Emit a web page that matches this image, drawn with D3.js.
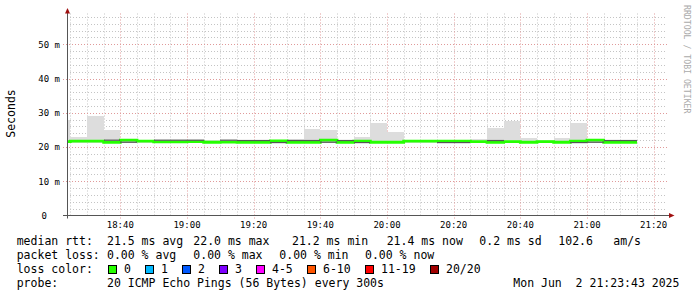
<!DOCTYPE html>
<html>
	<head>
		<title>SmokePing</title>
		<style>
			body, html { margin: 0; padding: 0; background: #fff; }
			text { font-family: "DejaVu Sans Mono", monospace; fill: #000; }
			.legend text { font-size: 11.5px; white-space: pre; }
			.tick-label { font-size: 9px; }
		</style>
	</head>
	<body>
		<svg id="svg" width="697" height="297"></svg>

		<script src="https://d3js.org/d3.v7.min.js"></script>
		<script>
			// 5-minute steps (time the step ends), values in ms
			const binEnds = ['18:25','18:30','18:35','18:40','18:45','18:50','18:55','19:00','19:05','19:10',
				'19:15','19:20','19:25','19:30','19:35','19:40','19:45','19:50','19:55','20:00',
				'20:05','20:10','20:15','20:20','20:25','20:30','20:35','20:40','20:45','20:50',
				'20:55','21:00','21:05','21:10','21:15']
			const medianMs = [21.6, 21.7, 21.7, 21.4, 22.0, 21.7, 21.5, 21.5, 21.6, 21.4,
				21.45, 21.4, 21.4, 21.8, 21.4, 21.4, 22.0, 21.4, 21.7, 21.4,
				21.4, 21.7, 21.7, 21.7, 21.7, 21.6, 21.4, 21.6, 21.4, 21.6,
				21.4, 21.7, 22.0, 21.4, 21.4]
			const smokeMaxMs = [28.0, 23.0, 29.0, 24.9, 22.3, 22.0, 22.0, 22.0, 22.0, 22.0,
				22.0, 21.9, 21.9, 22.0, 22.4, 25.2, 24.9, 21.9, 22.9, 27.0,
				24.4, 21.9, 21.9, 21.8, 21.8, 22.3, 25.5, 27.7, 22.6, 22.0,
				22.6, 27.0, 22.2, 21.9, 21.9]
			const smokeMinMs = [21.2, 21.3, 21.3, 21.2, 21.3, 21.3, 21.2, 21.2, 21.3, 21.2,
				21.2, 21.2, 21.2, 21.2, 21.2, 21.2, 21.3, 21.2, 21.2, 21.2,
				21.2, 21.3, 21.3, 21.2, 21.2, 21.3, 21.2, 21.3, 21.2, 21.3,
				21.2, 21.2, 21.3, 21.2, 21.2]
			// darker part of the smoke
			const denseMs = [21.6, 21.7, 21.7, 22.0, 21.4, 21.7, 22.0, 22.0, 22.0, 21.4,
				22.0, 21.9, 21.9, 21.3, 21.9, 21.9, 21.4, 21.9, 21.3, 21.4,
				21.4, 21.7, 21.7, 21.3, 21.3, 21.6, 21.9, 21.6, 21.4, 21.6,
				21.4, 21.3, 21.4, 21.9, 21.9]

			const yTicks = [0, 10, 20, 30, 40, 50]
			const yTickLabels = ['0', '10 m', '20 m', '30 m', '40 m', '50 m']
			const xTickLabels = ['18:40','19:00','19:20','19:40','20:00','20:20','20:40','21:00','21:20']

			const lossLabels = ['0', '1', '2', '3', '4-5', '6-10', '11-19', '20/20']
			const lossColors = ['#26ff00', '#00b8ff', '#0059ff', '#7e00ff', '#ff00ff', '#ff5500', '#ff0000', '#a10000']

			const statRtt = [['median rtt:', 16.7], ['21.5 ms avg', 107], ['22.0 ms max', 193.3],
				['21.2 ms min', 292], ['21.4 ms now', 386.7], ['0.2 ms sd', 479.3], ['102.6', 558.3], ['am/s', 613.3]]
			const statLoss = [['packet loss:', 16.7], ['0.00 % avg', 107], ['0.00 % max', 193.3],
				['0.00 % min', 279.3], ['0.00 % now', 365]]
			const probeText = '20 ICMP Echo Pings (56 Bytes) every 300s'
			const stampText = 'Mon Jun  2 21:23:43 2025'

			const parse = d3.timeParse('%H:%M')
			const step = 5

			const svg = d3.select('#svg')
			const x = d3.scaleTime()
				.domain([parse('18:24'), parse('21:24')])
				.range([67, 667])
			const y = d3.scaleLinear()
				.domain([0, 59])
				.range([215.5, 13.5])

			const data = binEnds.map((t, i) => ({
				end: parse(t),
				start: d3.timeMinute.offset(parse(t), -step),
				median: medianMs[i],
				hi: smokeMaxMs[i],
				lo: smokeMinMs[i],
				dense: denseMs[i]
			}))

			const px = v => Math.round(v) + 0.5

			// grid
			const grid = svg.append('g')
			const minorTimes = d3.timeMinute.every(5).range(parse('18:25'), parse('21:24'))
			const majorTimes = d3.timeMinute.every(20).range(parse('18:40'), parse('21:24'))
			const isMajorT = t => t.getMinutes() % 20 === 0

			grid.selectAll('.vminor')
				.data(minorTimes.filter(t => !isMajorT(t)))
				.enter().append('line')
				.attr('x1', d => px(x(d))).attr('x2', d => px(x(d)))
				.attr('y1', y.range()[1]).attr('y2', y(0))
				.attr('stroke', '#c4c4c4')
				.attr('stroke-dasharray', '1,2')

			const minorMs = d3.range(2, 59, 2).filter(v => v % 10 !== 0)
			grid.selectAll('.hminor')
				.data(minorMs)
				.enter().append('line')
				.attr('x1', 67).attr('x2', 667)
				.attr('y1', d => px(y(d))).attr('y2', d => px(y(d)))
				.attr('stroke', '#c4c4c4')
				.attr('stroke-dasharray', '1,2')

			grid.selectAll('.vmajor')
				.data(majorTimes)
				.enter().append('line')
				.attr('x1', d => px(x(d))).attr('x2', d => px(x(d)))
				.attr('y1', y.range()[1]).attr('y2', y(0) + 3)
				.attr('stroke', '#e09a9a')
				.attr('stroke-dasharray', '1,2')

			grid.selectAll('.hmajor')
				.data(yTicks.slice(1))
				.enter().append('line')
				.attr('x1', 63).attr('x2', 667)
				.attr('y1', d => px(y(d))).attr('y2', d => px(y(d)))
				.attr('stroke', '#e09a9a')
				.attr('stroke-dasharray', '1,2')

			// smoke
			const plot = svg.append('g')
			svg.append('clipPath').attr('id', 'clip')
				.append('rect').attr('x', 67).attr('y', 0).attr('width', 600).attr('height', 216)
			plot.attr('clip-path', 'url(#clip)')

			plot.selectAll('.smoke')
				.data(data)
				.enter().append('rect')
				.attr('x', d => Math.round(x(d.start)))
				.attr('width', d => Math.round(x(d.end)) - Math.round(x(d.start)))
				.attr('y', d => Math.round(y(d.hi)))
				.attr('height', d => Math.round(y(d.lo)) - Math.round(y(d.hi)))
				.attr('fill', '#dddddd')

			// median line, coloured by loss (all 0 here)
			const medianLine = d3.line()
				.x(d => x(d.t))
				.y(d => y(d.v))
			const medianPts = data.flatMap(d => [{ t: d.start, v: d.median }, { t: d.end, v: d.median }])
			plot.append('path')
				.datum(medianPts)
				.attr('d', medianLine)
				.attr('fill', 'none')
				.attr('stroke', lossColors[0])
				.attr('stroke-width', 2.8)

			plot.selectAll('.dense')
				.data(data.filter(d => Math.abs(d.dense - d.median) > 0.2))
				.enter().append('rect')
				.attr('x', d => Math.round(x(d.start)))
				.attr('width', d => Math.round(x(d.end)) - Math.round(x(d.start)))
				.attr('y', d => y(d.dense) - 0.6)
				.attr('height', 1.2)
				.attr('fill', '#555')

			// axes
			const axes = svg.append('g')
			axes.append('line')
				.attr('x1', 67.5).attr('x2', 67.5)
				.attr('y1', y(0) + 3).attr('y2', 11)
				.attr('stroke', '#555')
			axes.append('path')
				.attr('d', 'M65,13.5 L67.5,8 L70,13.5 Z')
				.attr('fill', '#a01010')
			axes.append('line')
				.attr('x1', 63).attr('x2', 670)
				.attr('y1', y(0)).attr('y2', y(0))
				.attr('stroke', '#555')
			axes.append('path')
				.attr('d', 'M669,213 L674.5,215.5 L669,218 Z')
				.attr('fill', '#a01010')

			// tick labels
			axes.selectAll('.ylab')
				.data(yTicks)
				.enter().append('text')
				.attr('class', 'tick-label')
				.attr('x', (d, i) => i === 0 ? 47 : 60)
				.attr('y', d => y(d) + 3.3)
				.attr('text-anchor', 'end')
				.text((d, i) => yTickLabels[i])

			axes.selectAll('.xlab')
				.data(xTickLabels)
				.enter().append('text')
				.attr('class', 'tick-label')
				.attr('x', d => x(parse(d)))
				.attr('y', 228)
				.attr('text-anchor', 'middle')
				.text(d => d)

			svg.append('text')
				.attr('transform', 'translate(14.5,113.5) rotate(-90)')
				.attr('text-anchor', 'middle')
				.style('font-size', '11.5px')
				.text('Seconds')

			svg.append('text')
				.attr('transform', 'translate(684,5) rotate(90)')
				.style('font-size', '8.2px')
				.style('fill', '#aaaaaa')
				.text('RRDTOOL / TOBI OETIKER')

			// legend
			const legend = svg.append('g').attr('class', 'legend')
			legend.selectAll('.rtt')
				.data(statRtt)
				.enter().append('text')
				.attr('x', d => d[1]).attr('y', 245)
				.text(d => d[0])
			legend.selectAll('.loss')
				.data(statLoss)
				.enter().append('text')
				.attr('x', d => d[1]).attr('y', 259)
				.text(d => d[0])
			legend.append('text').attr('x', 16.7).attr('y', 273).text('loss color:')

			let lx = 108.3
			const items = lossLabels.map(l => {
				const item = { label: l, x: lx }
				lx += 30 + 7 * l.length
				return item
			})
			const item = legend.selectAll('.lossitem')
				.data(items)
				.enter().append('g')
			item.append('rect')
				.attr('x', d => Math.round(d.x) + 0.5)
				.attr('y', 265.5)
				.attr('width', 8).attr('height', 8)
				.attr('fill', (d, i) => lossColors[i])
				.attr('stroke', '#000')
			item.append('text')
				.attr('x', d => d.x + 15.7)
				.attr('y', 273)
				.text(d => d.label)

			legend.append('text').attr('x', 16.7).attr('y', 287).text('probe:')
			legend.append('text').attr('x', 107).attr('y', 287).text(probeText)
			legend.append('text').attr('x', 513.3).attr('y', 287).text(stampText)
		</script>
	</body>
</html>
